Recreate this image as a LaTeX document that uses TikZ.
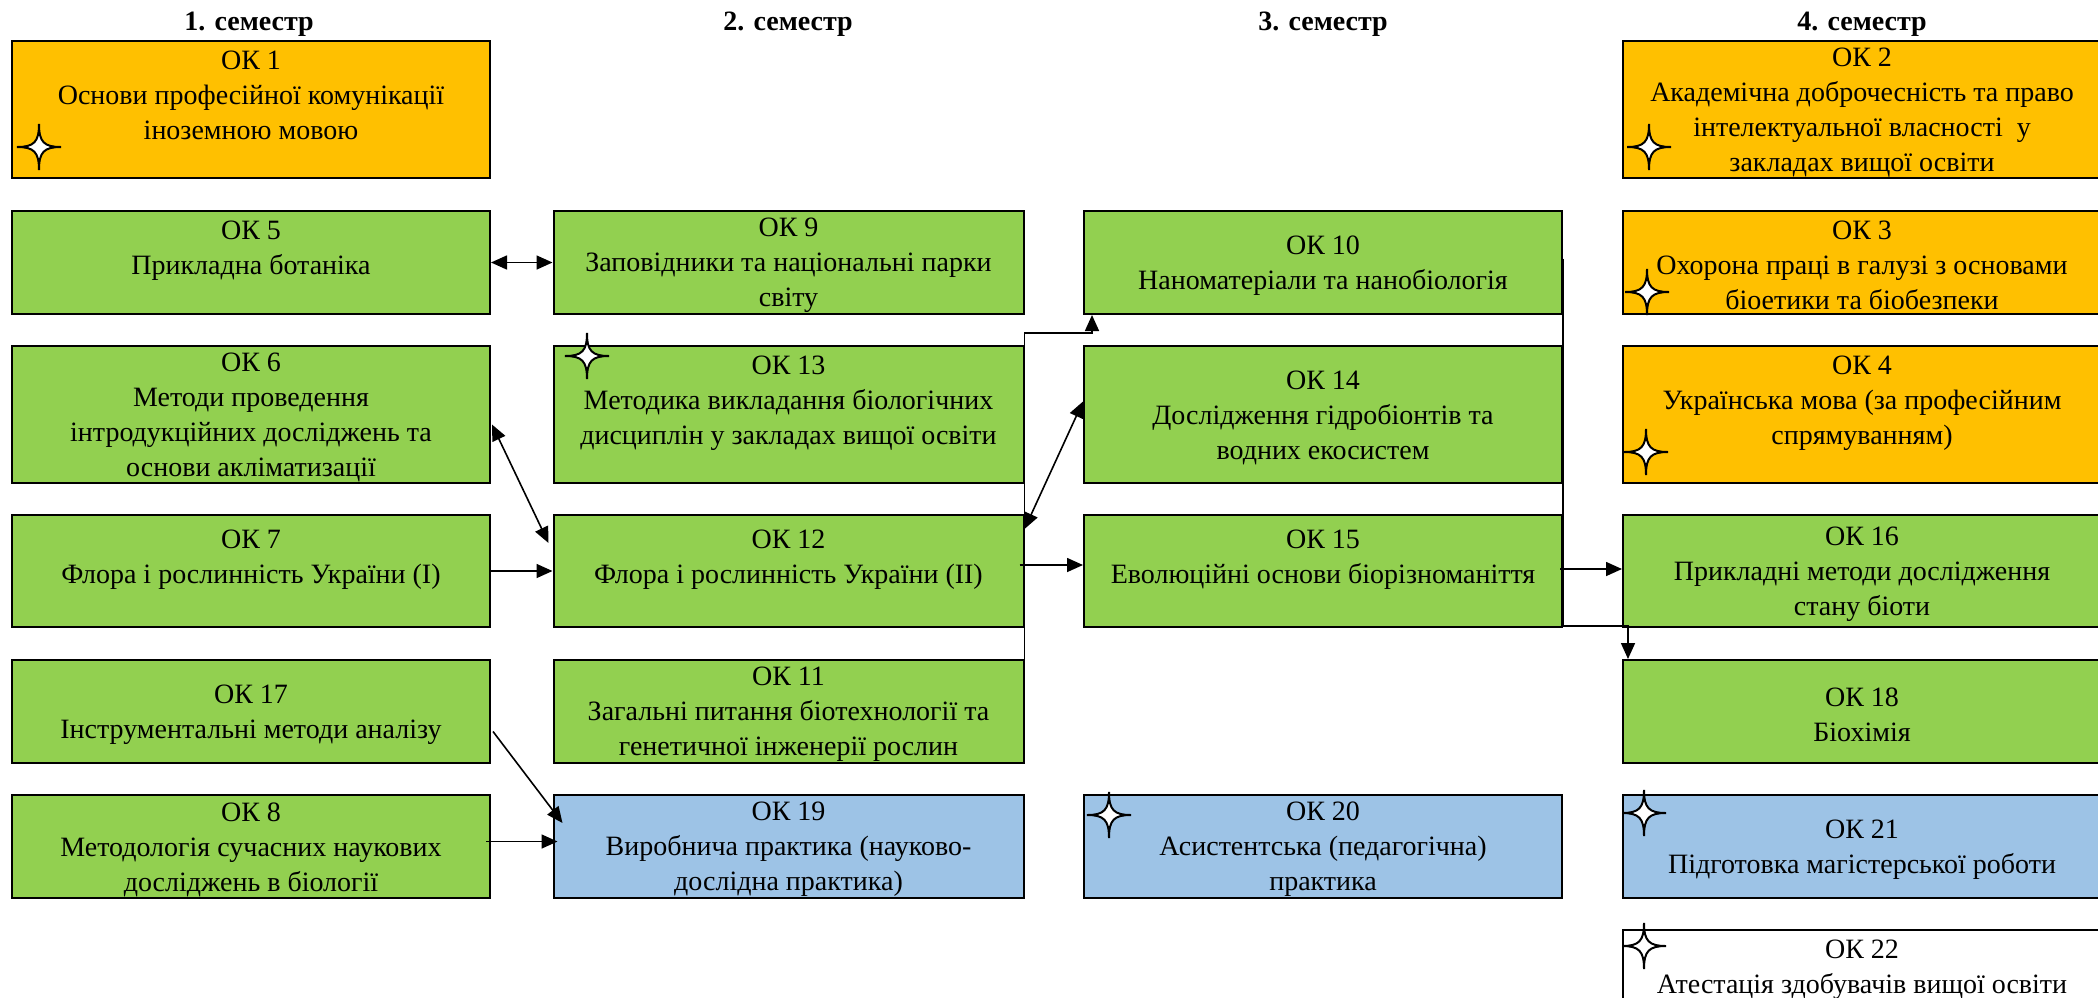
\documentclass[tikz,border=0pt]{standalone}
\usepackage{fontspec}
\setmainfont{Liberation Serif}
\usepackage{xcolor}
\usepackage{tikz}
\usetikzlibrary{calc, arrows.meta}
\definecolor{pomar}{HTML}{FFC000}
\definecolor{zelen}{HTML}{92D050}
\definecolor{blakyt}{HTML}{9DC3E6}
\newcommand{\okn}[1]{\strut ОК #1}
\tikzset{
  oknode/.style = {rectangle, draw=black, line width=1pt, align=center,
    inner sep=0pt, font=\fontsize{14}{17.5}\selectfont,
    minimum width=239pt, minimum height=51.5pt},
  ok_o/.style = {oknode, fill=pomar},% загальний компонент, помаранчевий
  ok_g/.style = {oknode, fill=zelen},% фаховий компонент, зелений
  ok_b/.style = {oknode, fill=blakyt},% практика, блакитний
  ok_w/.style = {oknode, fill=white},% атестація, білий
  ok_h/.style = {minimum height=68.5pt},% високий рядок
  ok_m/.style = {minimum height=56pt},% середній рядок
  ok_c2/.style = {minimum width=235pt},% вужча колонка
  sem/.style = {inner sep=0pt, font=\fontsize{14}{17}\selectfont\bfseries},
  zirka/.pic = {\draw[fill=white, line width=1pt] (0,-23)
    .. controls (0,-5) and (5,0) .. (22,0)
    .. controls (5,0) and (0,5) .. (0,23)
    .. controls (0,5) and (-5,0) .. (-22,0)
    .. controls (-5,0) and (0,-5) .. (0,-23) -- cycle;}
}
\begin{document}
\begin{tikzpicture}[x=0.5pt, y=-0.5pt, >={Triangle[length=8pt, width=7pt]}]
\useasboundingbox (0,0) rectangle (2098,997);

\node[sem] (s1) at (249,24) {1. семестр};
\node[sem] (s2) at (788,24) {2. семестр};
\node[sem] (s3) at (1323,24) {3. семестр};
\node[sem] (s4) at (1862,24) {4. семестр};

% 1. семестр
\node[ok_o, ok_h] (ok1) at (251,109.5) {\okn{1}\\Основи професійної комунікації\\іноземною мовою\\ ~};
\node[ok_g] (ok5) at (251,262.5) {\okn{5}\\Прикладна ботаніка\\ ~};
\node[ok_g, ok_h] (ok6) at (251,414.5) {\okn{6}\\Методи проведення\\інтродукційних досліджень та\\основи акліматизації};
\node[ok_g, ok_m] (ok7) at (251,571) {\okn{7}\\Флора і рослинність України (I)\\ ~};
\node[ok_g] (ok17) at (251,711.5) {\okn{17}\\Інструментальні методи аналізу};
\node[ok_g] (ok8) at (251,846.5) {\okn{8}\\Методологія сучасних наукових\\досліджень в біології};

% 2. семестр
\node[ok_g, ok_c2] (ok9) at (788.5,262.5) {\okn{9}\\Заповідники та національні парки\\світу};
\node[ok_g, ok_h, ok_c2] (ok13) at (788.5,414.5) {\okn{13}\\Методика викладання біологічних\\дисциплін у закладах вищої освіти\\ ~};
\node[ok_g, ok_m, ok_c2] (ok12) at (788.5,571) {\okn{12}\\Флора і рослинність України (II)\\ ~};
\node[ok_g, ok_c2] (ok11) at (788.5,711.5) {\okn{11}\\Загальні питання біотехнології та\\генетичної інженерії рослин};
\node[ok_b, ok_c2] (ok19) at (788.5,846.5) {\okn{19}\\Виробнича практика (науково-\\дослідна практика)};

% 3. семестр
\node[ok_g] (ok10) at (1323,262.5) {\okn{10}\\Наноматеріали та нанобіологія};
\node[ok_g, ok_h] (ok14) at (1323,414.5) {\okn{14}\\Дослідження гідробіонтів та\\водних екосистем};
\node[ok_g, ok_m] (ok15) at (1323,571) {\okn{15}\\Еволюційні основи біорізноманіття\\ ~};
\node[ok_b] (ok20) at (1323,846.5) {\okn{20}\\Асистентська (педагогічна)\\практика};

% 4. семестр
\node[ok_o, ok_h] (ok2) at (1862,109.5) {\okn{2}\\Академічна доброчесність та право\\інтелектуальної власності\ \ у\\закладах вищої освіти};
\node[ok_o] (ok3) at (1862,262.5) {\okn{3}\\Охорона праці в галузі з основами\\біоетики та біобезпеки};
\node[ok_o, ok_h] (ok4) at (1862,414.5) {\okn{4}\\Українська мова (за професійним\\спрямуванням)\\ ~};
\node[ok_g, ok_m] (ok16) at (1862,571) {\okn{16}\\Прикладні методи дослідження\\стану біоти};
\node[ok_g] (ok18) at (1862,711.5) {\okn{18}\\Біохімія};
\node[ok_b] (ok21) at (1862,846.5) {\okn{21}\\Підготовка магістерської роботи};
\node[ok_w] (ok22) at (1862,981.5) {\okn{22}\\Атестація здобувачів вищої освіти\\ ~};

% зірочки
\pic at (39,147) {zirka};
\pic at (587,356) {zirka};
\pic at (1109,815) {zirka};
\pic at (1649,147) {zirka};
\pic at (1647,292) {zirka};
\pic at (1646,452) {zirka};
\pic at (1644,813) {zirka};
\pic at (1644,946) {zirka};

\coordinate (z1) at (1092,333);
\coordinate (z2) at (1628,626);
\draw[<->,thick] (ok5.east) -- (ok9.west);
\draw[<->,thick] ($(ok6.east)+(1,10)$) -- ($(ok12.west)+(-4,-28)$);
\draw[->,thick] (ok7.east) -- (ok12.west);
\draw[->,thick] ($(ok17.east)+(2,20)$) -- ($(ok19.north west)+(10,29)$);
\draw[->,thick] ($(ok8.east)+(-5,-5)$) -- ($(ok19.west)+(5,-5)$);
\draw[->,thick] (ok11.east) |- (z1) -- (z1 |- ok10.south);
\draw[<->,thick] ($(ok12.north east)+(0,15)$) -- ($(ok14.west)+(0,-13)$);
\draw[->,thick] ($(ok12.east)+(-5,-6)$) -- ($(ok15.west)+(0,-6)$);
\draw[->,thick] ($(ok10.east)+(0,-4)$) |- (z2) -- (z2 |- ok18.north);
\draw[->,thick] ($(ok15.east)+(-3,-2)$) -- ($(ok16.west)+(0,-2)$);
\end{tikzpicture}
\end{document}
